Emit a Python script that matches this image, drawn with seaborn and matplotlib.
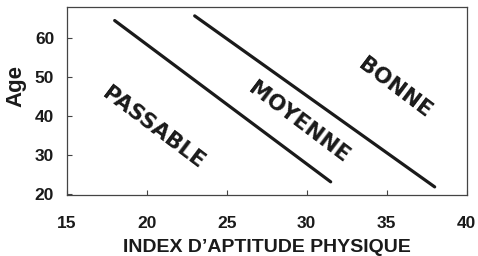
import matplotlib
matplotlib.use("Agg")
import matplotlib.pyplot as plt
import seaborn as sns
import pandas as pd

# Data
line1_x = [18.0, 31.5]
line1_y = [64.5, 23.1]
line2_x = [23.0, 38.0]
line2_y = [65.7, 21.8]
zone_labels = ["PASSABLE", "MOYENNE", "BONNE"]
zone_x = [20.4, 29.5, 35.5]
zone_y = [36.9, 38.4, 47.2]
x_ticks = [15, 20, 25, 30, 35, 40]
y_ticks = [20, 30, 40, 50, 60]

sns.set_theme(style="ticks")
plt.rcParams['font.family'] = ['Liberation Sans', 'DejaVu Sans']

df = pd.concat([
    pd.DataFrame({"x": line1_x, "y": line1_y, "line": "l1"}),
    pd.DataFrame({"x": line2_x, "y": line2_y, "line": "l2"}),
])

fig = plt.figure(figsize=(4.78, 2.56), dpi=100)
ax = fig.add_axes([0.1395, 0.238, 0.8368, 0.735])
ink = "#1a1a1a"
sns.lineplot(data=df, x="x", y="y", units="line", estimator=None,
             color=ink, linewidth=2.3, ax=ax, sort=False)

ax.set_xlim(15, 40)
ax.set_ylim(19.7, 68.0)
ax.set_xticks(x_ticks)
ax.set_yticks(y_ticks)
ax.tick_params(direction="in", length=3.5, width=0.8, color="#444444",
               labelsize=12.5, labelcolor=ink)
ax.tick_params(axis="x", pad=15)
ax.tick_params(axis="y", pad=9)
for lbl in ax.get_xticklabels() + ax.get_yticklabels():
    lbl.set_fontweight("bold")
for s in ax.spines.values():
    s.set_visible(True)
    s.set_color("#444444")
    s.set_linewidth(0.9)

ax.set_xlabel("INDEX D\u2019APTITUDE PHYSIQUE", fontsize=14, fontweight="bold",
              color=ink, labelpad=6)
ax.set_ylabel("Age", fontsize=16, fontweight="bold", color=ink)
ax.yaxis.set_label_coords(-0.10, 0.58)

for t, x, y in zip(zone_labels, zone_x, zone_y):
    ax.text(x, y, t, rotation=-37, ha="center", va="center",
            fontsize=15.5, fontweight="bold", color=ink,
            family=["DejaVu Sans"], rotation_mode="anchor")

fig.savefig("out.png", dpi=100)
